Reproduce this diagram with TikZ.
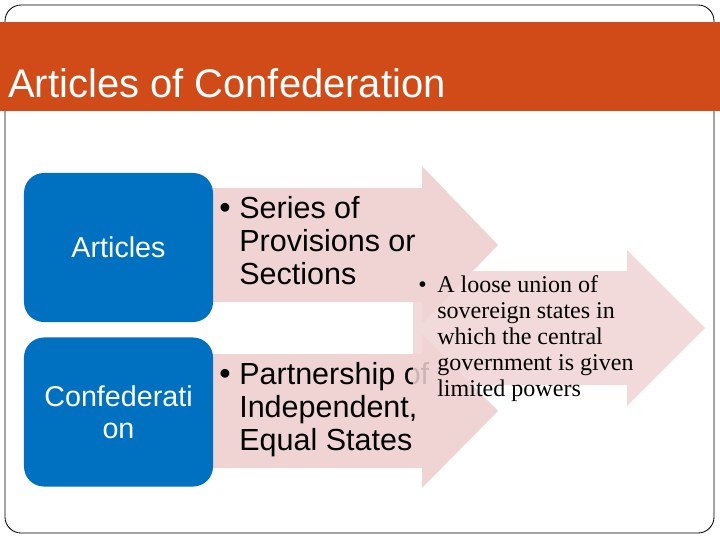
\documentclass[tikz,border=0pt]{standalone}
\usepackage{fontspec}
\setmainfont{Liberation Sans}
\newfontfamily\timesfont{Liberation Serif}
\definecolor{bannerred}{RGB}{208,75,24}
\definecolor{boxblue}{RGB}{0,112,192}
\definecolor{arrowpink}{RGB}{240,212,212}

\tikzset{
    bluebox/.style={fill=boxblue,text=white,rounded corners=0.5cm,
        minimum width=4.725cm,minimum height=3.725cm,align=center,
        font=\fontsize{20.4}{22.7}\selectfont},
    arrowtext/.style={anchor=north west,inner sep=0,align=left,
        font=\fontsize{21.7}{23.4}\selectfont},
    bulletmark/.style={anchor=base west,inner sep=0,
        font=\fontsize{23}{23.4}\selectfont}
}

\begin{document}
\begin{tikzpicture}[x=0.025cm,y=-0.025cm]
    \useasboundingbox (0,0) rectangle (720,540);

    % frame and title bar
    \draw[line width=0.6pt,rounded corners=0.4cm] (5,5) rectangle (714,533);
    \fill[bannerred] (0,22) rectangle (720,111);
    \node[anchor=base west,inner sep=0,text=white,
        font=\fontsize{28.4}{34}\selectfont] (title) at (8,97)
        {Articles of Confederation};

    % the two arrows behind the terms
    \fill[arrowpink] (213,188) -- (422,188) -- (422,166) -- (498,245)
        -- (422,324) -- (422,302) -- (213,302) -- cycle;
    \fill[arrowpink] (213,354) -- (422,354) -- (422,334) -- (498,411)
        -- (422,488) -- (422,468) -- (213,468) -- cycle;

    \node[bluebox] (articles) at (118.5,247.5) {Articles};
    \node[bluebox] (confed) at (118.5,412) {Confederati\\on};

    \node[bulletmark] (bulA) at (219,218) {•};
    \node[arrowtext] (provisions) at (239,196)
        {Series of\\Provisions or\\Sections};
    \node[bulletmark] (bulB) at (219,384) {•};
    \node[arrowtext] (partnership) at (239,362)
        {Partnership of\\Independent,\\Equal States};

    % definition arrow on top
    \fill[arrowpink,opacity=0.85] (413,271) -- (627,271) -- (627,250)
        -- (705,328) -- (627,406) -- (627,385) -- (413,385) -- cycle;
    \node[anchor=base west,inner sep=0,
        font=\timesfont\fontsize{17}{18.4}\selectfont] (bulC) at (418,292) {•};
    \node[anchor=north west,inner sep=0,align=left,
        font=\timesfont\fontsize{17.1}{18.4}\selectfont] (definition) at (437,275.5)
        {A loose union of\\sovereign states in\\which the central\\government is given\\limited powers};
\end{tikzpicture}
\end{document}
